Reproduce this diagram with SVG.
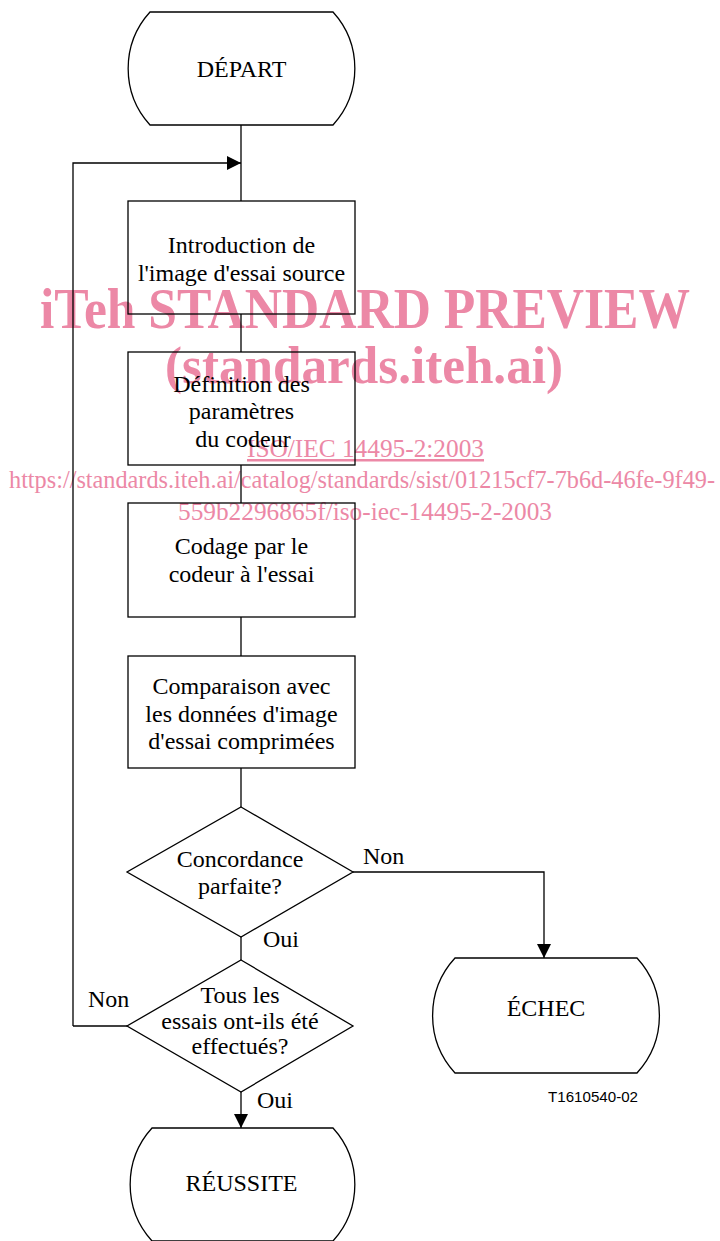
<svg xmlns="http://www.w3.org/2000/svg" width="720" height="1241" viewBox="0 0 720 1241">
<style>
.s{fill:none;stroke:#000;stroke-width:1.3}
.t{font-family:"Liberation Serif","Times New Roman",serif;font-size:24px;fill:#000;text-anchor:middle}
.l{font-family:"Liberation Serif","Times New Roman",serif;font-size:24px;fill:#000}
.wm{font-family:"Liberation Serif","Times New Roman",serif;fill:#ec88a6}
.wb{font-weight:bold}
.c{fill:none;stroke:#000;stroke-width:1.3}
</style>
<defs>
<marker id="ah" markerWidth="14" markerHeight="14" refX="14" refY="7" orient="auto" markerUnits="userSpaceOnUse">
<path d="M0,0 L14,7 L0,14 Z" fill="#000"/>
</marker>
</defs>
<rect width="720" height="1241" fill="#fff"/>
<g id="watermark">
<text class="wm wb" x="40" y="328" font-size="58" textLength="650" lengthAdjust="spacingAndGlyphs">iTeh STANDARD PREVIEW</text>
<text class="wm wb" x="165" y="383" font-size="52" textLength="398" lengthAdjust="spacingAndGlyphs">(standards.iteh.ai)</text>
<text class="wm" x="247" y="457" font-size="25" textLength="237" lengthAdjust="spacingAndGlyphs" text-decoration="underline">ISO/IEC 14495-2:2003</text>
<text class="wm" x="9" y="488" font-size="25" textLength="706" lengthAdjust="spacingAndGlyphs">https://standards.iteh.ai/catalog/standards/sist/01215cf7-7b6d-46fe-9f49-</text>
<text class="wm" x="178" y="520" font-size="25" textLength="374" lengthAdjust="spacingAndGlyphs">559b2296865f/iso-iec-14495-2-2003</text>
</g>
<g id="connectors">
<path class="c" d="M241,125 V201"/>
<path class="c" d="M73,1026 V163 H241" marker-end="url(#ah)"/>
<path class="c" d="M127,1026 H73"/>
<path class="c" d="M241,314 V352"/>
<path class="c" d="M241,465 V503"/>
<path class="c" d="M241,617 V656"/>
<path class="c" d="M241,768 V807"/>
<path class="c" d="M241,937 V960"/>
<path class="c" d="M241,1092 V1128" marker-end="url(#ah)"/>
<path class="c" d="M353,872 H544 V958" marker-end="url(#ah)"/>
<text class="l" x="363" y="864">Non</text>
<text class="l" x="263" y="947">Oui</text>
<text class="l" x="88" y="1007">Non</text>
<text class="l" x="257" y="1108">Oui</text>
</g>
<g id="depart">
<path class="s" d="M150,12 H333 A84,84 0 0 1 333,125 H150 A84,84 0 0 1 150,12 Z"/>
<text class="t" x="241.5" y="77">DÉPART</text>
</g>
<g id="introduction">
<rect class="s" x="128" y="201" width="227" height="113"/>
<text class="t" x="241.5" y="253">Introduction de</text>
<text class="t" x="241.5" y="281">l'image d'essai source</text>
</g>
<g id="definition">
<rect class="s" x="128" y="352" width="227" height="113"/>
<text class="t" x="241.5" y="392">Définition des</text>
<text class="t" x="241.5" y="419">paramètres</text>
<text class="t" x="243" y="447">du codeur</text>
</g>
<g id="codage">
<rect class="s" x="128" y="503" width="227" height="114"/>
<text class="t" x="241.5" y="554">Codage par le</text>
<text class="t" x="241.5" y="582">codeur à l'essai</text>
</g>
<g id="comparaison">
<rect class="s" x="128" y="656" width="227" height="112"/>
<text class="t" x="241.5" y="694">Comparaison avec</text>
<text class="t" x="241.5" y="722">les données d'image</text>
<text class="t" x="241.5" y="749">d'essai comprimées</text>
</g>
<g id="concordance">
<path class="s" d="M241,807 L353,872 L241,937 L127,872 Z"/>
<text class="t" x="240" y="867">Concordance</text>
<text class="t" x="240" y="894">parfaite?</text>
</g>
<g id="tous">
<path class="s" d="M241,960 L353,1026 L241,1092 L127,1026 Z"/>
<text class="t" x="240" y="1003">Tous les</text>
<text class="t" x="240" y="1029">essais ont-ils été</text>
<text class="t" x="240" y="1054">effectués?</text>
</g>
<g id="echec">
<path class="s" d="M455,958 H637 A85,85 0 0 1 637,1073 H455 A85,85 0 0 1 455,958 Z"/>
<text class="t" x="546" y="1016">ÉCHEC</text>
</g>
<g id="reussite">
<path class="s" d="M152,1128 H333 A84,84 0 0 1 333,1241 H152 A84,84 0 0 1 152,1128 Z"/>
<text class="t" x="241.5" y="1191">RÉUSSITE</text>
</g>
<text x="548" y="1102" font-family="'Liberation Sans',Arial,sans-serif" font-size="14" textLength="90" lengthAdjust="spacingAndGlyphs" fill="#000">T1610540-02</text>
</svg>
